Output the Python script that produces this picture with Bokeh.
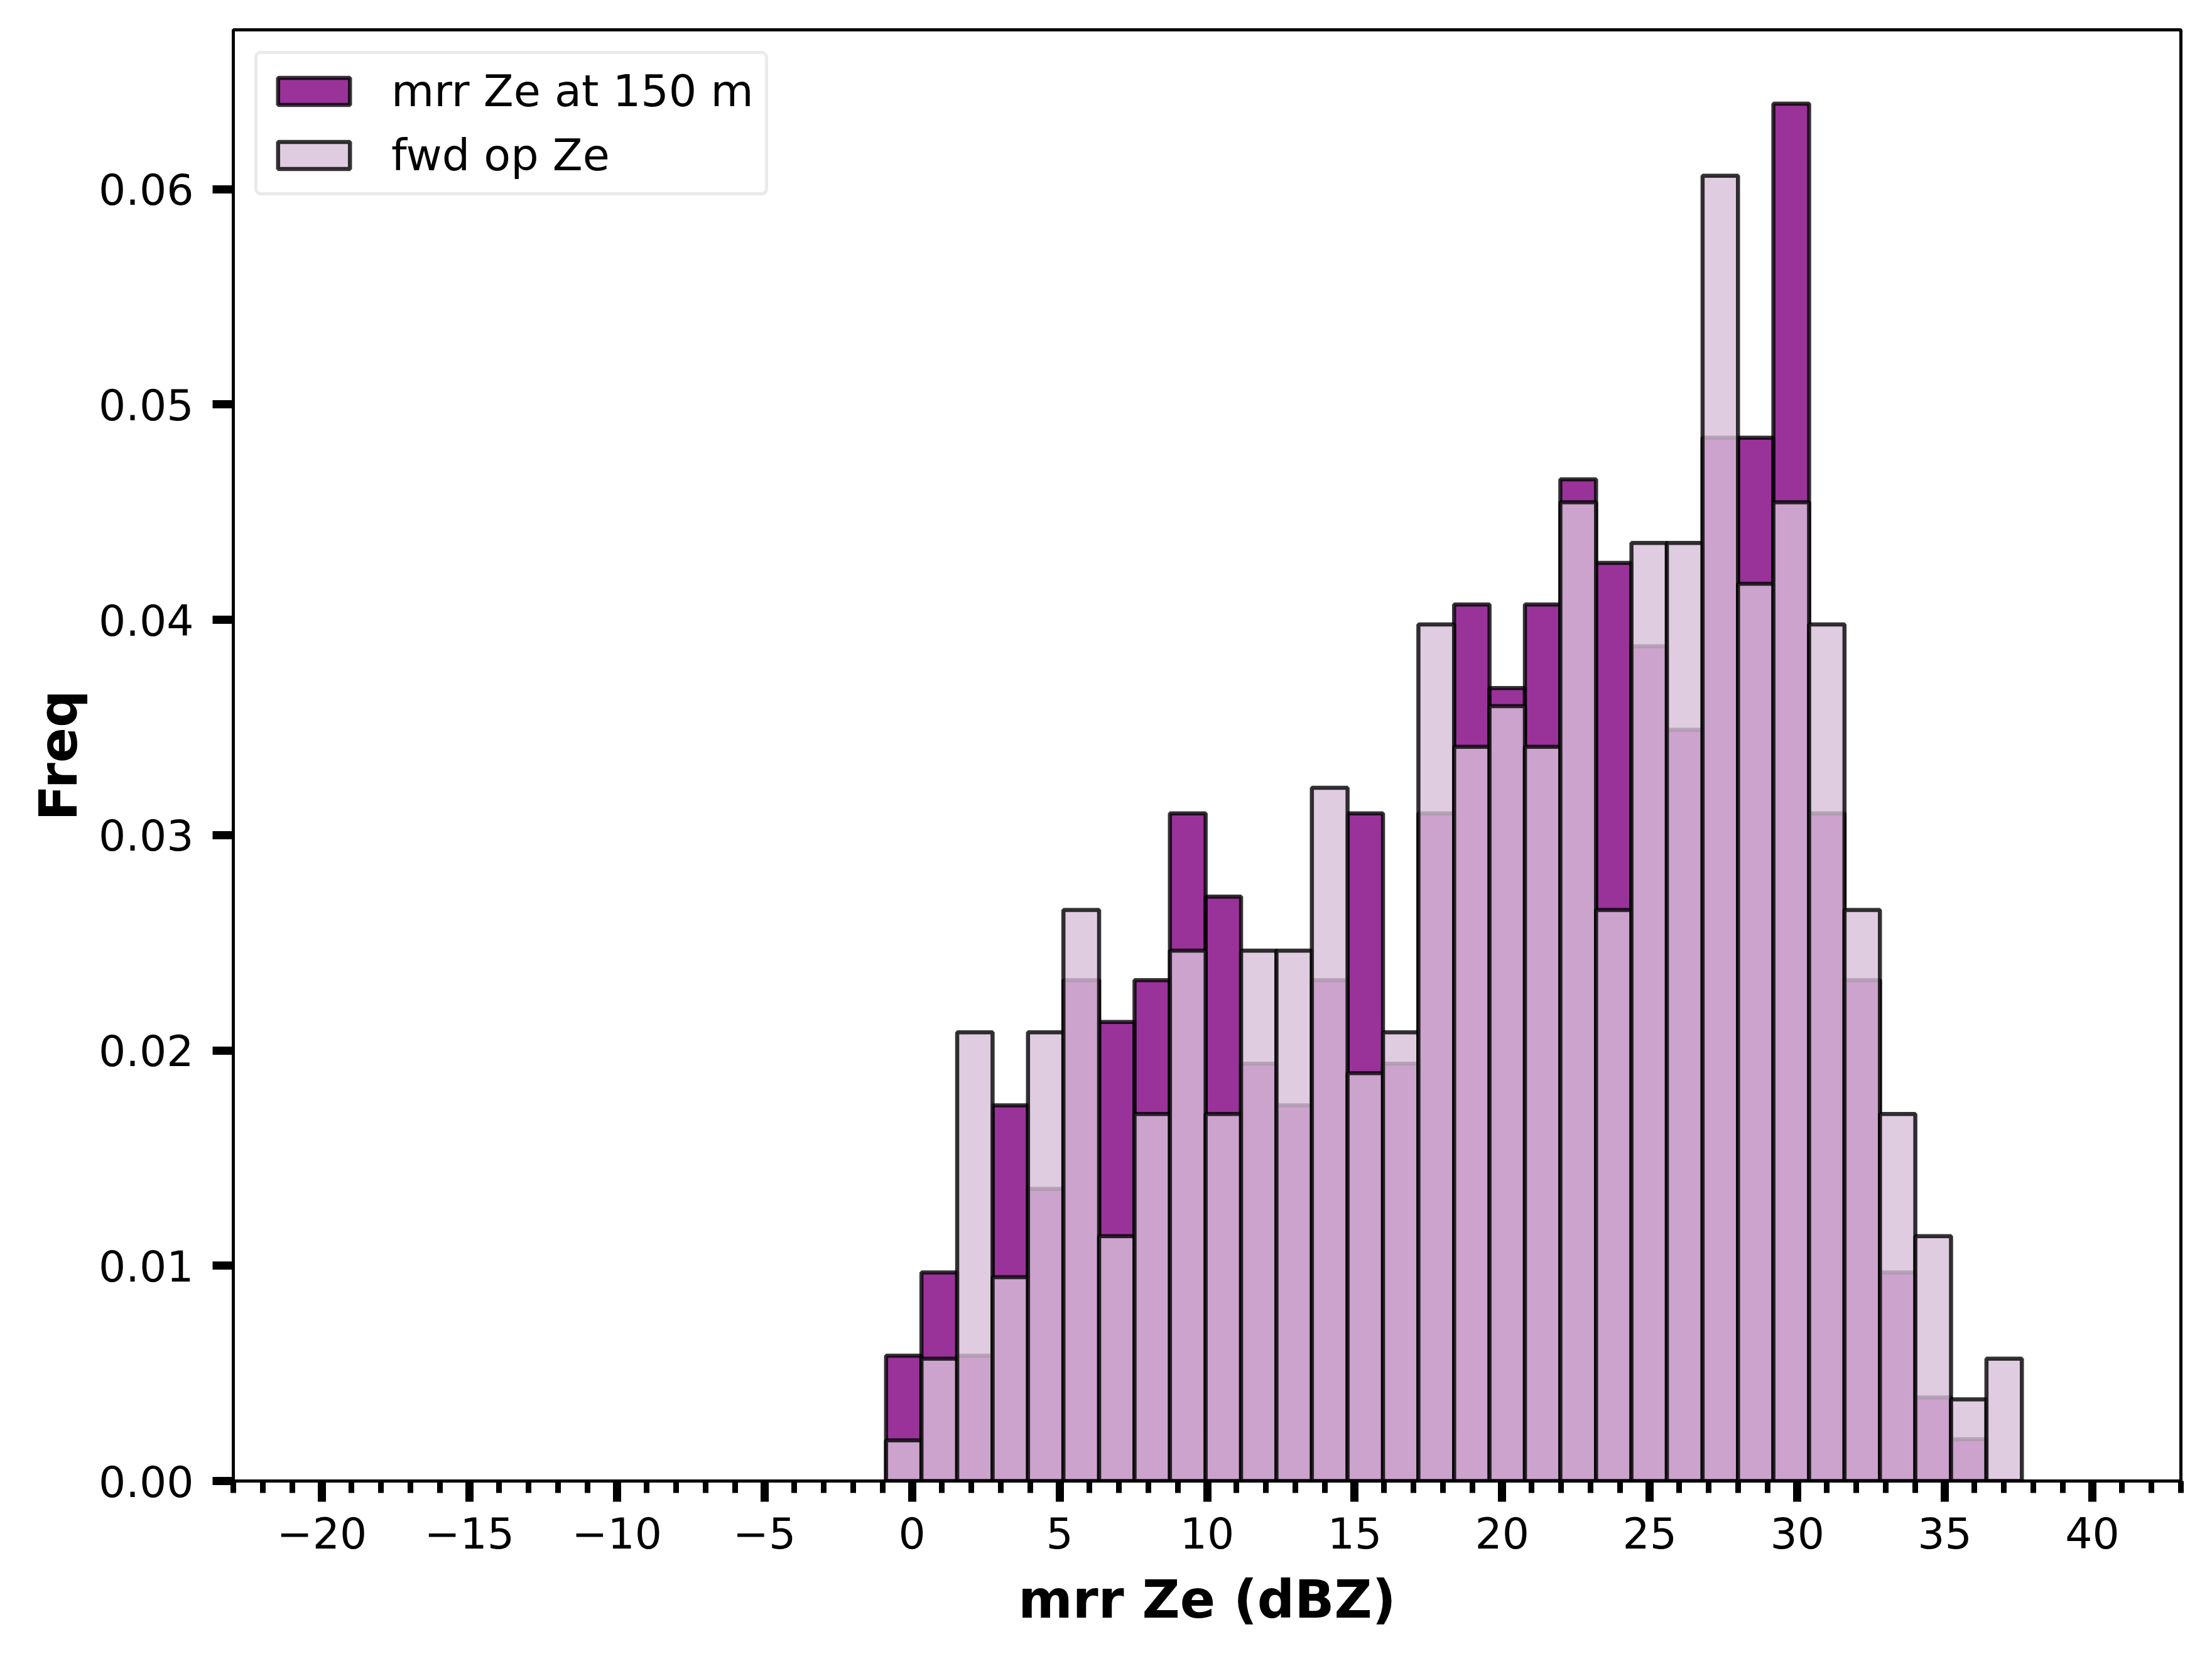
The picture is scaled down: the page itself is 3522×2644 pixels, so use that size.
#!/usr/bin/env python3
# -*- coding:utf-8 -*-

from bokeh.plotting import figure
from bokeh.models import (Range1d, SingleIntervalTicker, FixedTicker,
                          NumeralTickFormatter, Legend, LegendItem)
from bokeh.embed import file_html
from bokeh.resources import INLINE

# histogram bin edges (dBZ), shared by both series
bin_edges = [-0.88, 0.32, 1.53, 2.73, 3.93, 5.13, 6.34, 7.54, 8.74, 9.95,
             11.15, 12.35, 13.55, 14.76, 15.96, 17.16, 18.37, 19.57, 20.77,
             21.97, 23.18, 24.38, 25.58, 26.79, 27.99, 29.19, 30.40, 31.60,
             32.80, 34.00, 35.21, 36.41, 37.61]

# normalised frequency per bin
mrr_freq = [0.00582, 0.00969, 0.00582, 0.01745, 0.01357, 0.02326, 0.02132,
            0.02326, 0.03101, 0.02714, 0.01938, 0.01745, 0.02326, 0.03101,
            0.01938, 0.03101, 0.04071, 0.03683, 0.04071, 0.04652, 0.04264,
            0.03877, 0.03489, 0.04846, 0.04846, 0.06397, 0.03101, 0.02326,
            0.00969, 0.00388, 0.00194, 0.0]
fwd_freq = [0.00189, 0.00568, 0.02084, 0.00947, 0.02084, 0.02652, 0.01137,
            0.01705, 0.02463, 0.01705, 0.02463, 0.02463, 0.03220, 0.01894,
            0.02084, 0.03978, 0.03410, 0.03599, 0.03410, 0.04546, 0.02652,
            0.04357, 0.04357, 0.06062, 0.04167, 0.04546, 0.03978, 0.02652,
            0.01705, 0.01137, 0.00379, 0.00568]

x_ticks = [-20, -15, -10, -5, 0, 5, 10, 15, 20, 25, 30, 35, 40]
x_tick_labels = ["\u221220", "\u221215", "\u221210", "\u22125", "0", "5",
                 "10", "15", "20", "25", "30", "35", "40"]
y_ticks = [0.0, 0.01, 0.02, 0.03, 0.04, 0.05, 0.06]

FONT = "DejaVu Sans"

left = bin_edges[:-1]
right = bin_edges[1:]

p = figure(width=3500, height=2620,
           x_range=Range1d(-23, 43), y_range=Range1d(0, 0.0674),
           output_backend="svg", toolbar_location=None,
           min_border_left=371, min_border_right=28,
           min_border_top=47, min_border_bottom=263)

p.xgrid.visible = False
p.ygrid.visible = False
p.outline_line_color = "black"
p.outline_line_width = 5
p.outline_line_alpha = 1.0

r_mrr = p.quad(left=left, right=right, bottom=0, top=mrr_freq,
               fill_color="purple", fill_alpha=0.8,
               line_color="black", line_alpha=0.8, line_width=6.5)
r_fwd = p.quad(left=left, right=right, bottom=0, top=fwd_freq,
               fill_color="thistle", fill_alpha=0.8,
               line_color="black", line_alpha=0.8, line_width=6.5)

p.xaxis.ticker = SingleIntervalTicker(interval=5, num_minor_ticks=5)
p.xaxis.major_label_overrides = dict(zip(x_ticks, x_tick_labels))
p.yaxis.ticker = FixedTicker(ticks=y_ticks)
p.yaxis.formatter = NumeralTickFormatter(format="0.00")

p.xaxis.axis_label = "mrr Ze (dBZ)"
p.yaxis.axis_label = "Freq"

for ax in (p.xaxis[0], p.yaxis[0]):
    ax.axis_line_width = 5
    ax.axis_line_color = "black"
    ax.major_tick_line_width = 13
    ax.major_tick_out = 33
    ax.major_tick_in = 0
    ax.minor_tick_line_width = 9
    ax.minor_tick_out = 19
    ax.minor_tick_in = 0
    ax.major_label_text_font = FONT
    ax.major_label_text_font_size = "68px"
    ax.major_label_text_color = "black"
    ax.axis_label_text_font = FONT
    ax.axis_label_text_font_size = "83px"
    ax.axis_label_text_font_style = "bold"
    ax.axis_label_text_color = "black"

p.xaxis.major_label_standoff = 24
p.yaxis.major_label_standoff = 30
p.xaxis.axis_label_standoff = 30
p.yaxis.axis_label_standoff = 12

legend = Legend(items=[LegendItem(label="mrr Ze at 150 m", renderers=[r_mrr]),
                       LegendItem(label="fwd op Ze", renderers=[r_fwd])],
                location="top_left")
legend.margin = 34
legend.padding = 18
legend.spacing = 20
legend.glyph_width = 143
legend.glyph_height = 54
legend.label_height = 80
legend.label_standoff = 52
legend.label_text_font = FONT
legend.label_text_font_size = "70px"
legend.label_text_color = "black"
legend.border_line_color = "#d6d6d6"
legend.border_line_width = 5
legend.border_radius = 10
legend.background_fill_alpha = 0.8
p.add_layout(legend)

open("out.html", "w").write(file_html(p, INLINE))
